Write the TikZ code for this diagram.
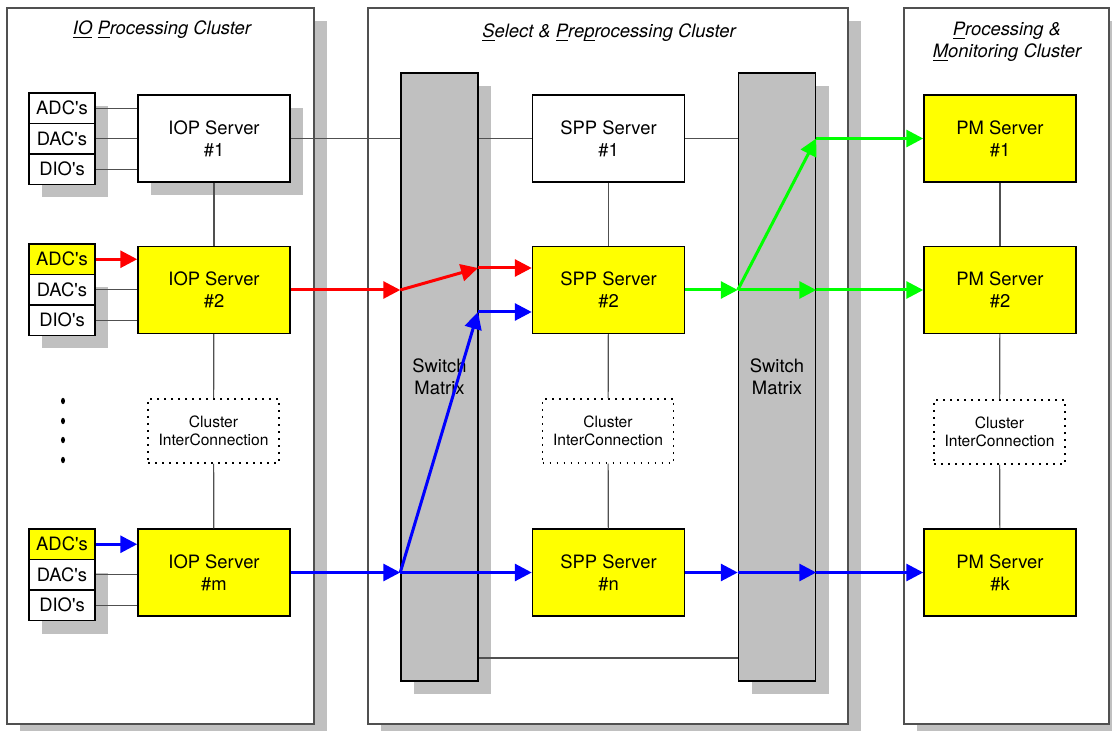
\documentclass[tikz,border=0pt]{standalone}
\usepackage{fontspec}
\newfontfamily\helv{TeX Gyre Heros}
\usetikzlibrary{arrows.meta,calc,shadows,positioning}
\definecolor{SrvClr}{RGB}{255,255,0}
\definecolor{ShadeClr}{RGB}{192,192,192}
\definecolor{LinkClr}{RGB}{80,80,80}
\definecolor{RedClr}{RGB}{255,0,0}
\definecolor{GreenClr}{RGB}{0,255,0}
\definecolor{BlueClr}{RGB}{0,0,255}
\newcommand\keyl[1]{\underline{\smash{#1}}}

\begin{document}
\begin{tikzpicture}[x=0.5pt,y=-0.5pt,
  txt/.style={font=\helv\fontsize{9.2}{11}\selectfont},
  title/.style={font=\helv\itshape\fontsize{9.2}{11}\selectfont,align=center},
  shd/.style={drop shadow={shadow xshift=6.5pt,shadow yshift=-6.5pt,fill=ShadeClr,opacity=1}},
  frame/.style={draw=LinkClr,line width=0.6pt,fill=white,shd},
  srv/.style={txt,draw,line width=0.75pt,minimum width=76pt,minimum height=43.5pt,align=center,inner sep=0pt},
  hot/.style={srv,fill=SrvClr},
  cold/.style={srv,fill=white},
  io/.style={txt,draw,line width=0.75pt,minimum width=33pt,minimum height=15.25pt,inner sep=0pt,fill=white},
  ci/.style={draw,dash pattern=on 0.9pt off 2.6pt,line width=0.75pt,minimum width=65.5pt,minimum height=32pt,align=center,inner sep=0pt,fill=white,font=\helv\fontsize{7.8}{9}\selectfont},
  sw/.style={txt,draw,line width=0.75pt,fill=ShadeClr,minimum width=38.5pt,minimum height=304pt,align=center,inner sep=0pt,shd},
  link/.style={draw=LinkClr,line width=0.6pt},
  flow/.style={line width=1.5pt,-{Triangle[length=8.5pt,width=8.5pt]}}
]
\useasboundingbox (0,0) rectangle (1112,731);
\clip (0,0) rectangle (1112,731);

\draw[frame] (7,8) rectangle (314,724);
\draw[frame] (368,8) rectangle (848,724);
\draw[frame] (904,8) rectangle (1109,724);

\node[title] (tio) at (162,30) {\keyl{IO} \keyl{P}rocessing Cluster};
\node[title] (tspp) at (609,33) {\keyl{S}elect \& \keyl{P}re\keyl{p}rocessing Cluster};
\node[title,text depth=0pt] (tpm) at (1007,40) {\keyl{P}rocessing \&\\\keyl{M}onitoring Cluster};

\node[sw] (sw1) at (439.5,377) {Switch\\Matrix};
\node[sw] (sw2) at (777,377) {Switch\\Matrix};

\node[io,shd] (adc1) at (62,108.25) {ADC's};
\node[io,shd] (dac1) at (62,138.75) {DAC's};
\node[io,shd] (dio1) at (62,169.25) {DIO's};
\node[io,fill=SrvClr] (adc2) at (62,259.25) {ADC's};
\node[io,shd] (dac2) at (62,289.75) {DAC's};
\node[io,shd] (dio2) at (62,320.25) {DIO's};
\node[io,fill=SrvClr] (adcm) at (62,544.25) {ADC's};
\node[io,shd] (dacm) at (62,574.75) {DAC's};
\node[io,shd] (diom) at (62,605.25) {DIO's};

\node[cold,shd] (iop1) at (214,138.5) {IOP Server\\\#1};
\node[hot] (iop2) at (214,290) {IOP Server\\\#2};
\node[ci] (ci1) at (213.5,431) {Cluster\\InterConnection};
\node[hot] (iopm) at (214,572.5) {IOP Server\\\#m};

\node[cold] (spp1) at (608.5,138.5) {SPP Server\\\#1};
\node[hot] (spp2) at (608.5,290) {SPP Server\\\#2};
\node[ci] (ci2) at (608,431) {Cluster\\InterConnection};
\node[hot] (sppn) at (608.5,572.5) {SPP Server\\\#n};

\node[hot] (pm1) at (1000,138.5) {PM Server\\\#1};
\node[hot] (pm2) at (1000,290) {PM Server\\\#2};
\node[ci] (ci3) at (999.5,432) {Cluster\\InterConnection};
\node[hot] (pmk) at (1000,572.5) {PM Server\\\#k};

\fill (63,401) ellipse (1pt and 1.6pt);
\fill (63,421) ellipse (1pt and 1.6pt);
\fill (63,440) ellipse (1pt and 1.6pt);
\fill (63,460) ellipse (1pt and 1.6pt);

\coordinate (bot) at (600,658);
\coordinate (rin) at (iop2.east -| sw1.west);
\coordinate (rout) at (478,268);
\coordinate (bin) at (iopm.east -| sw1.west);
\coordinate (bout) at (478,312);
\coordinate (gin) at (spp2.east -| sw2.west);
\coordinate (gup) at (pm1.west -| sw2.east);
\coordinate (gout) at (spp2.east -| sw2.east);
\coordinate (bin2) at (sppn.east -| sw2.west);
\coordinate (bout2) at (sppn.east -| sw2.east);

\draw[link] (adc1.east) -- (adc1.east -| iop1.west);
\draw[link] (dac1.east) -- (dac1.east -| iop1.west);
\draw[link] (dio1.east) -- (dio1.east -| iop1.west);
\draw[link] (dac2.east) -- (dac2.east -| iop2.west);
\draw[link] (dio2.east) -- (dio2.east -| iop2.west);
\draw[link] (dacm.east) -- (dacm.east -| iopm.west);
\draw[link] (diom.east) -- (diom.east -| iopm.west);

\draw[link] (iop1) -- (iop2);
\draw[link] (iop2) -- (ci1);
\draw[link] (ci1) -- (iopm);
\draw[link] (spp1) -- (spp2);
\draw[link] (spp2) -- (ci2);
\draw[link] (ci2) -- (sppn);
\draw[link] (pm1) -- (pm2);
\draw[link] (pm2) -- (ci3);
\draw[link] (ci3) -- (pmk);

\draw[link] (iop1.east) -- (iop1.east -| sw1.west);
\draw[link] (iop1.east -| sw1.east) -- (spp1.west);
\draw[link] (spp1.east) -- (spp1.east -| sw2.west);
\draw[link] (sw1.east |- bot) -- (sw2.west |- bot);

\draw[flow,RedClr] (adc2.east) -- (adc2.east -| iop2.west);
\draw[flow,RedClr] (iop2.east) -- (rin);
\draw[flow,RedClr] (rin) -- (rout);
\draw[flow,RedClr] (rout) -- (rout -| spp2.west);

\draw[flow,BlueClr] (adcm.east) -- (adcm.east -| iopm.west);
\draw[flow,BlueClr] (iopm.east) -- (bin);
\draw[flow,BlueClr] (bin) -- (bout);
\draw[flow,BlueClr] (bout) -- (bout -| spp2.west);
\draw[flow,BlueClr] (bin) -- (sppn.west);
\draw[flow,BlueClr] (sppn.east) -- (bin2);
\draw[flow,BlueClr] (bin2) -- (bout2);
\draw[flow,BlueClr] (bout2) -- (pmk.west);

\draw[flow,GreenClr] (spp2.east) -- (gin);
\draw[flow,GreenClr] (gin) -- (gup);
\draw[flow,GreenClr] (gup) -- (pm1.west);
\draw[flow,GreenClr] (gin) -- (gout);
\draw[flow,GreenClr] (gout) -- (pm2.west);

\end{tikzpicture}
\end{document}
